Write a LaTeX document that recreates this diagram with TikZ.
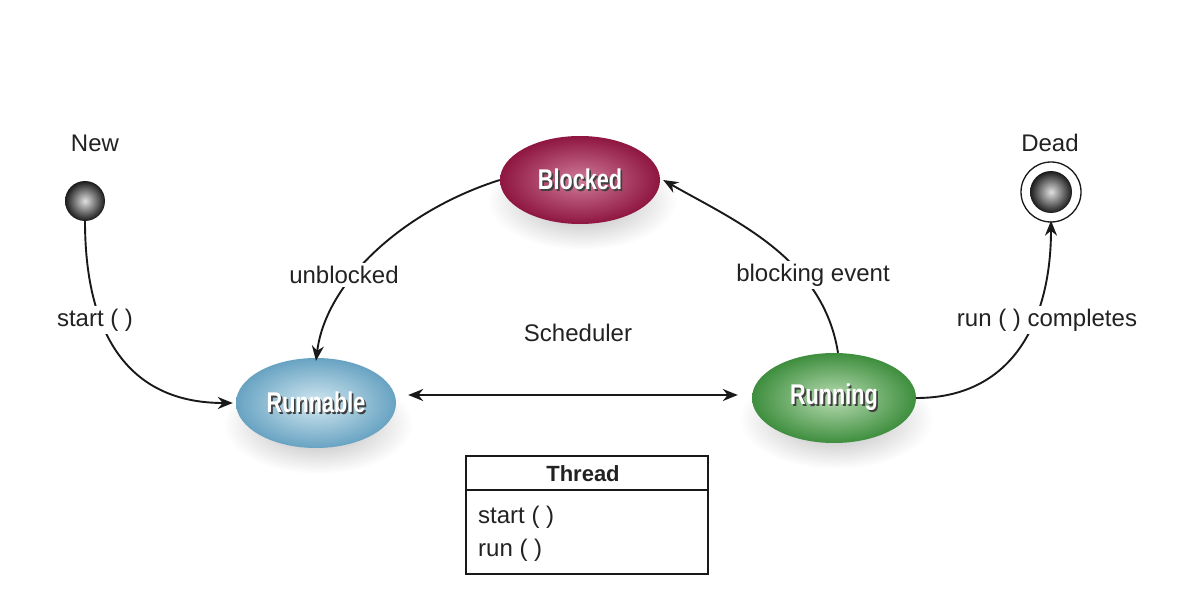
\documentclass[tikz,border=0pt]{standalone}
\usepackage{fontspec}
\setmainfont{Liberation Sans}
\newfontfamily\condbold[FakeStretch=0.76]{Liberation Sans Bold}
\usetikzlibrary{shapes.geometric,arrows.meta}
\definecolor{blkIn}{HTML}{D07A99}
\definecolor{blkOut}{HTML}{8E1640}
\definecolor{runIn}{HTML}{D3E8F1}
\definecolor{runOut}{HTML}{68A3C2}
\definecolor{rngIn}{HTML}{B8DCB2}
\definecolor{rngOut}{HTML}{3E8E3E}
\definecolor{txt}{HTML}{222222}
\newcommand\shtext[1]{\raisebox{-2.5pt}{\makebox[0pt][l]{\hspace{1.8pt}\raisebox{-1.8pt}{\textcolor{black!75}{#1}}}\textcolor{white}{#1}}}
\tikzset{
  mytip/.tip={Stealth[length=15pt,width=12pt]},
  state/.style={ellipse, minimum width=160pt, minimum height=88pt, inner sep=0pt,
    font=\condbold\fontsize{28.5}{30}\selectfont},
  shad/.style={ellipse, minimum width=190pt, minimum height=100pt, inner sep=0pt,
    shading=radial, inner color=black!32, outer color=white},
  dot/.style={circle, minimum size=40pt, inner sep=0pt, shading=radial, inner color=white!88!black, outer color=black!90},
  lbl/.style={font=\fontsize{24}{28}\selectfont, text=txt, inner sep=2pt},
  lblw/.style={lbl, fill=white, inner sep=3pt},
  conn/.style={line width=1.9pt, draw=black!90, -{mytip}},
}
\begin{document}
\begin{tikzpicture}[x=1pt,y=-1pt]
\useasboundingbox (0,0) rectangle (1178,599);
\fill[white] (0,0) rectangle (1178,599);

% shadows
\node[shad] (blockedsh) at (582,200) {};
\node[shad] (runnablesh) at (318,424) {};
\node[shad, minimum width=194pt] (runningsh) at (836,419) {};

% states
\node[state, shading=radial, inner color=blkIn, outer color=blkOut] (blocked) at (580,180) {\shtext{Blocked}};
\node[state, shading=radial, inner color=runIn, outer color=runOut, minimum width=160pt, minimum height=90pt] (runnable) at (316,403) {\shtext{Runnable}};
\node[state, shading=radial, inner color=rngIn, outer color=rngOut, minimum width=164pt, minimum height=90pt] (running) at (834,398) {\shtext{Running}};

% pseudo states
\node[dot] (new) at (85,201) {};
\node[lbl] (newl) at (95,143) {New};
\node[circle, draw=black!90, line width=1.3pt, minimum size=60pt, inner sep=0pt] (deadring) at (1051,192) {};
\node[dot, minimum size=42pt] (dead) at (1051,192) {};
\node[lbl] (deadl) at (1050,143) {Dead};

% connectors
\draw[conn] (new.south) .. controls +(0,105) and +(-110,0) .. ([xshift=-3pt]runnable.west);
\draw[conn] (blocked.west) .. controls +(-95,30) and +(10,-80) .. ([yshift=-3pt]runnable.north);
\draw[conn] ([xshift=4pt]running.north) .. controls +(-15,-95) and +(70,40) .. ([xshift=3pt]blocked.east);
\draw[conn] (running.east) .. controls +(100,0) and +(0,95) .. ([yshift=2pt]deadring.south);
\draw[line width=1.9pt, draw=black!90, {mytip}-{mytip}]
  ([xshift=12pt]runnable.east |- 0,395) coordinate (sa) -- ([xshift=-14pt]running.west |- 0,395) coordinate (sb);

% labels
\node[lblw] (startl) at (95,320) {start ( )};
\node[lblw] (unbl) at (344,275) {unblocked};
\node[lblw] (bevl) at (813,275) {blocking event};
\node[lblw] (rcl) at (1047,320) {run ( ) completes};
\node[lbl] (schl) at (578,333) {Scheduler};

% Thread class box
\node[draw=black!90, line width=1.4pt, minimum width=242pt, minimum height=118pt, inner sep=0pt] (thread) at (587,515) {};
\node[font=\bfseries\fontsize{22}{26}\selectfont, text=txt] (threadt) at (583,474) {Thread};
\draw[line width=1.4pt, draw=black!90] (thread.west |- 0,490) coordinate (da) -- (thread.east |- 0,490) coordinate (db);
\node[lbl, anchor=west] (m1) at (476,517) {start ( )};
\node[lbl, anchor=west] (m2) at (476,550) {run ( )};
\end{tikzpicture}
\end{document}
